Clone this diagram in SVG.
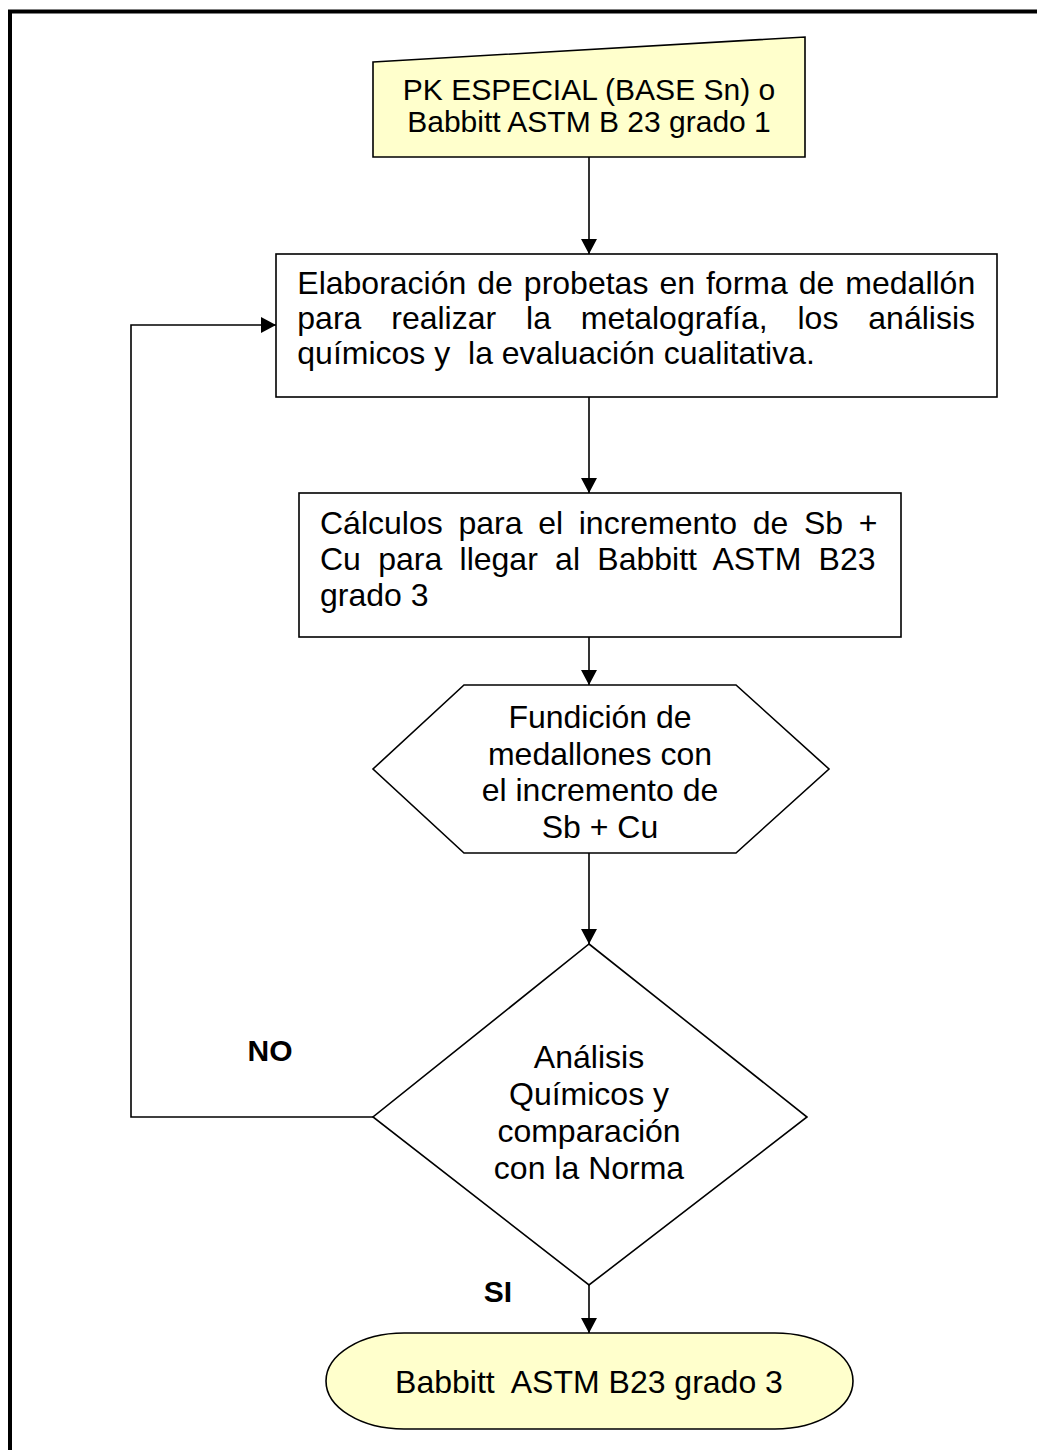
<svg xmlns="http://www.w3.org/2000/svg" width="1037" height="1450" viewBox="0 0 1037 1450">
  <style>
    .node { stroke: #000; stroke-width: 1.6; }
    .yellow { fill: #FFFFCC; }
    .white { fill: #FFFFFF; }
    .t { font-family: "Liberation Sans", Arial, sans-serif; font-size: 32px; fill: #000; }
    .c { text-anchor: middle; }
    .b { font-weight: bold; font-size: 30px; }
    .conn { fill: none; stroke: #000; stroke-width: 1.6; }
    .pre { white-space: pre; }
  </style>
  <defs>
    <marker id="arrow" markerUnits="userSpaceOnUse" markerWidth="16" markerHeight="16" viewBox="0 0 16 16" refX="15" refY="8" orient="auto">
      <path d="M0,0 L15,8 L0,16 Z" fill="#000"/>
    </marker>
  </defs>
  <rect x="0" y="0" width="1037" height="1450" fill="#FFFFFF"/>
  <rect x="10" y="11.5" width="1100" height="1500" fill="none" stroke="#000" stroke-width="4"/>

  <g id="connectors">
    <line class="conn" x1="589" y1="157" x2="589" y2="254" marker-end="url(#arrow)"/>
    <line class="conn" x1="589" y1="397" x2="589" y2="493" marker-end="url(#arrow)"/>
    <line class="conn" x1="589" y1="637" x2="589" y2="685" marker-end="url(#arrow)"/>
    <line class="conn" x1="589" y1="853" x2="589" y2="944" marker-end="url(#arrow)"/>
    <line class="conn" x1="589" y1="1285" x2="589" y2="1333" marker-end="url(#arrow)"/>
    <polyline class="conn" points="373,1117 131,1117 131,325 276,325" marker-end="url(#arrow)"/>
  </g>

  <g id="node-start">
    <polygon class="node yellow" points="373,62 805,37 805,157 373,157"/>
    <text class="t c" x="589" y="100" style="font-size:30px">PK ESPECIAL (BASE Sn) o</text>
    <text class="t c" x="589" y="132" style="font-size:30px">Babbitt ASTM B 23 grado 1</text>
  </g>

  <g id="node-elaboracion">
    <rect class="node white" x="276" y="254" width="721" height="143"/>
    <text class="t" x="297.3" y="294" word-spacing="2.1">Elaboración de probetas en forma de medallón</text>
    <text class="t" x="297.3" y="329" word-spacing="21">para realizar la metalografía, los análisis</text>
    <text class="t pre" x="297.3" y="364">químicos y  la evaluación cualitativa.</text>
  </g>

  <g id="node-calculos">
    <rect class="node white" x="299" y="493" width="602" height="144"/>
    <text class="t" x="320" y="534" word-spacing="6.8">Cálculos para el incremento de Sb +</text>
    <text class="t" x="320" y="570" word-spacing="8.4">Cu para llegar al Babbitt ASTM B23</text>
    <text class="t" x="320" y="606">grado 3</text>
  </g>

  <g id="node-fundicion">
    <polygon class="node white" points="464,685 736,685 829,769 736,853 464,853 373,769"/>
    <text class="t c" x="600" y="728">Fundición de</text>
    <text class="t c" x="600" y="765">medallones con</text>
    <text class="t c" x="600" y="801">el incremento de</text>
    <text class="t c" x="600" y="838">Sb + Cu</text>
  </g>

  <g id="node-analisis">
    <polygon class="node white" points="589,944 807,1117 589,1285 373,1117"/>
    <text class="t c" x="589" y="1068">Análisis</text>
    <text class="t c" x="589" y="1105">Químicos y</text>
    <text class="t c" x="589" y="1142">comparación</text>
    <text class="t c" x="589" y="1179">con la Norma</text>
  </g>

  <g id="label-no">
    <text class="t b c" x="270" y="1061">NO</text>
  </g>
  <g id="label-si">
    <text class="t b c" x="498" y="1302">SI</text>
  </g>

  <g id="node-end">
    <rect class="node yellow" x="326" y="1333" width="527" height="96" rx="78" ry="48"/>
    <text class="t c pre" x="589" y="1393">Babbitt  ASTM B23 grado 3</text>
  </g>
</svg>
